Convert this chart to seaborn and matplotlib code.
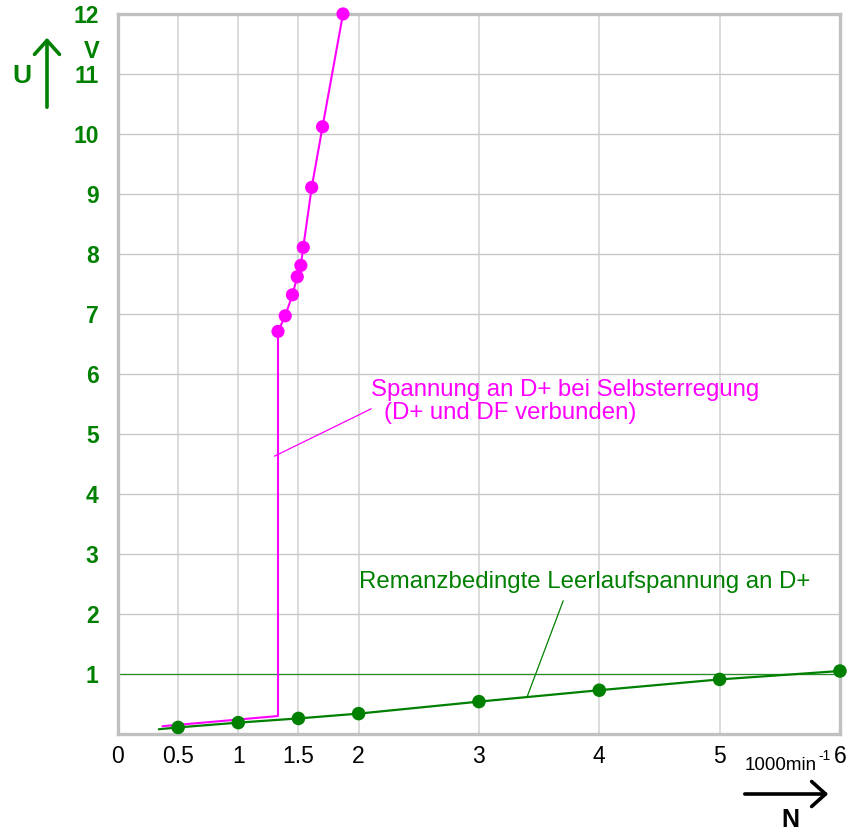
import numpy as np
import pandas as pd
import matplotlib
matplotlib.use("Agg")
import matplotlib.pyplot as plt
import seaborn as sns

# speed N in 1000 min^-1, voltage U in V
self_exc_n = [0.37, 1.33, 1.33, 1.39, 1.45, 1.49, 1.52, 1.54, 1.61, 1.70, 1.87]
self_exc_u = [0.13, 0.30, 6.71, 6.97, 7.32, 7.62, 7.81, 8.11, 9.11, 10.12, 12.0]
self_exc_marked_from = 2  # first measured point with a marker

remanence_n = [0.34, 0.5, 1.0, 1.5, 2.0, 3.0, 4.0, 5.0, 6.0]
remanence_u = [0.08, 0.11, 0.19, 0.26, 0.34, 0.54, 0.73, 0.91, 1.05]
remanence_marked_from = 1

x_ticks = [0, 0.5, 1, 1.5, 2, 3, 4, 5, 6]
x_ticklabels = ["0", "0.5", "1", "1.5", "2", "3", "4", "5", "6"]
y_ticks = list(range(1, 13))

MAGENTA = "#ff00ff"
GREEN = "#008000"

sns.set_theme(style="white")
plt.rcParams["font.family"] = ["Liberation Sans", "DejaVu Sans"]

fig = plt.figure(figsize=(8.68, 8.31), dpi=100)
ax = fig.add_axes([0.1359, 0.1167, 0.8318, 0.8665])

# grid
for xv in x_ticks[1:-1]:
    ax.axvline(xv, color="#dcdcdc", lw=1.4, zorder=0)
for yv in y_ticks[:-1]:
    ax.axhline(yv, color="#c8c8c8", lw=1.0, zorder=0)
ax.axhline(1, color=GREEN, lw=0.9, alpha=0.8, zorder=1)

df_self = pd.DataFrame({"n": self_exc_n, "u": self_exc_u})
df_rem = pd.DataFrame({"n": remanence_n, "u": remanence_u})

sns.lineplot(data=df_rem, x="n", y="u", sort=False, estimator=None,
             color=GREEN, lw=1.6, ax=ax, zorder=3)
sns.scatterplot(data=df_rem.iloc[remanence_marked_from:], x="n", y="u",
                color=GREEN, s=95, edgecolor="none", ax=ax, zorder=4, clip_on=False)

sns.lineplot(data=df_self, x="n", y="u", sort=False, estimator=None,
             color=MAGENTA, lw=1.5, ax=ax, zorder=3)
sns.scatterplot(data=df_self.iloc[self_exc_marked_from:], x="n", y="u",
                color=MAGENTA, s=90, edgecolor="none", ax=ax, zorder=4, clip_on=False)

ax.set_xlim(0, 6)
ax.set_ylim(0, 12)
ax.set_xticks(x_ticks)
ax.set_xticklabels(x_ticklabels)
ax.set_yticks(y_ticks)
ax.set_xlabel("")
ax.set_ylabel("")
ax.tick_params(axis="x", length=0, pad=8, labelsize=16.5, labelcolor="black")
ax.tick_params(axis="y", length=0, pad=14, labelsize=16.5, labelcolor=GREEN)
for lbl in ax.get_yticklabels():
    lbl.set_fontweight("bold")

for sp in ax.spines.values():
    sp.set_visible(True)
    sp.set_color("#c0c0c0")
    sp.set_linewidth(2.4)

# annotations
ax.annotate("", xy=(2.105, 5.42), xytext=(1.30, 4.63),
            arrowprops=dict(arrowstyle="-", color=MAGENTA, lw=0.9, shrinkA=0, shrinkB=0))
ax.text(2.10, 5.73, "Spannung an D+ bei Selbsterregung", color=MAGENTA,
        fontsize=17.3, ha="left", va="center")
ax.text(2.21, 5.35, "(D+ und DF verbunden)", color=MAGENTA,
        fontsize=17.3, ha="left", va="center")

ax.annotate("", xy=(3.70, 2.22), xytext=(3.40, 0.62),
            arrowprops=dict(arrowstyle="-", color=GREEN, lw=0.9, shrinkA=0, shrinkB=0))
ax.text(2.007, 2.53, "Remanzbedingte Leerlaufspannung an D+", color=GREEN,
        fontsize=17.3, ha="left", va="center")

# axis names with arrows (figure pixel coords)
W, H = 868, 831
def fx(px):
    return px / W
def fy(py):
    return 1 - py / H

fig.patches.append(matplotlib.patches.FancyArrowPatch(
    (fx(47), fy(110)), (fx(47), fy(35)), transform=fig.transFigure,
    arrowstyle="->,head_length=10,head_width=9", color=GREEN, lw=2.6))
fig.text(fx(22), fy(76), "U", color=GREEN, fontsize=19, fontweight="bold",
         ha="center", va="center")
fig.text(fx(92), fy(52), "V", color=GREEN, fontsize=17, fontweight="bold",
         ha="center", va="center")

fig.patches.append(matplotlib.patches.FancyArrowPatch(
    (fx(742), fy(794)), (fx(831), fy(794)), transform=fig.transFigure,
    arrowstyle="->,head_length=10,head_width=9", color="black", lw=2.6))
fig.text(fx(745), fy(766), "1000min", color="black", fontsize=13.5,
         ha="left", va="center")
fig.text(fx(818), fy(756), "-1", color="black", fontsize=10,
         ha="left", va="center")
fig.text(fx(790), fy(820), "N", color="black", fontsize=18, fontweight="bold",
         ha="center", va="center")

fig.savefig("out.png", dpi=100)
